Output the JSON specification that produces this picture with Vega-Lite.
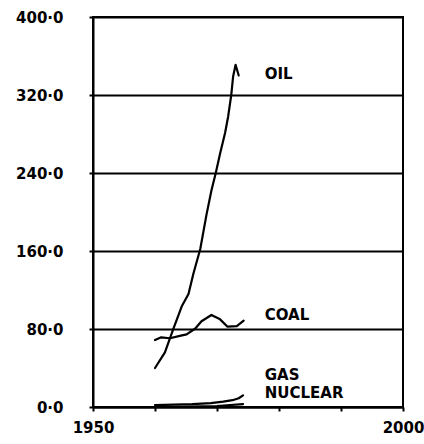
{
  "$schema": "https://vega.github.io/schema/vega-lite/v6.json",
  "autosize": "none",
  "width": 310,
  "height": 390,
  "padding": {"left": 93, "top": 17, "right": 21, "bottom": 37},
  "background": "white",
  "config": {
    "view": {"stroke": "black", "strokeWidth": 2},
    "font": "DejaVu Sans"
  },
  "datasets": {
    "series": [
      {"fuel": "OIL", "year": 1960.0, "value": 40},
      {"fuel": "OIL", "year": 1961.6, "value": 56},
      {"fuel": "OIL", "year": 1962.9, "value": 79},
      {"fuel": "OIL", "year": 1964.3, "value": 103},
      {"fuel": "OIL", "year": 1965.4, "value": 116},
      {"fuel": "OIL", "year": 1966.2, "value": 137},
      {"fuel": "OIL", "year": 1967.3, "value": 162},
      {"fuel": "OIL", "year": 1968.3, "value": 197},
      {"fuel": "OIL", "year": 1969.1, "value": 222},
      {"fuel": "OIL", "year": 1969.8, "value": 240},
      {"fuel": "OIL", "year": 1970.5, "value": 260},
      {"fuel": "OIL", "year": 1971.3, "value": 281},
      {"fuel": "OIL", "year": 1971.8, "value": 298},
      {"fuel": "OIL", "year": 1972.3, "value": 320},
      {"fuel": "OIL", "year": 1972.6, "value": 339},
      {"fuel": "OIL", "year": 1973.0, "value": 351},
      {"fuel": "OIL", "year": 1973.5, "value": 340},
      {"fuel": "COAL", "year": 1960.0, "value": 68.7},
      {"fuel": "COAL", "year": 1961.0, "value": 71.5},
      {"fuel": "COAL", "year": 1962.4, "value": 70.5},
      {"fuel": "COAL", "year": 1964.0, "value": 73},
      {"fuel": "COAL", "year": 1965.1, "value": 74.5},
      {"fuel": "COAL", "year": 1966.5, "value": 80.5},
      {"fuel": "COAL", "year": 1967.5, "value": 88},
      {"fuel": "COAL", "year": 1969.1, "value": 94.4},
      {"fuel": "COAL", "year": 1970.5, "value": 89.9},
      {"fuel": "COAL", "year": 1971.7, "value": 82.4},
      {"fuel": "COAL", "year": 1973.2, "value": 83},
      {"fuel": "COAL", "year": 1974.3, "value": 88.5},
      {"fuel": "GAS", "year": 1960.0, "value": 2},
      {"fuel": "GAS", "year": 1963.0, "value": 2.5},
      {"fuel": "GAS", "year": 1966.0, "value": 3},
      {"fuel": "GAS", "year": 1969.0, "value": 4},
      {"fuel": "GAS", "year": 1971.0, "value": 5.5},
      {"fuel": "GAS", "year": 1972.5, "value": 7},
      {"fuel": "GAS", "year": 1973.5, "value": 9},
      {"fuel": "GAS", "year": 1974.2, "value": 12},
      {"fuel": "NUCLEAR", "year": 1960.0, "value": 0},
      {"fuel": "NUCLEAR", "year": 1965.0, "value": 0.3},
      {"fuel": "NUCLEAR", "year": 1970.0, "value": 1},
      {"fuel": "NUCLEAR", "year": 1974.2, "value": 3}
    ],
    "labels": [
      {"label": "OIL", "year": 1977.7, "value": 342},
      {"label": "COAL", "year": 1977.7, "value": 94},
      {"label": "GAS", "year": 1977.7, "value": 33},
      {"label": "NUCLEAR", "year": 1977.7, "value": 14}
    ]
  },
  "layer": [
    {
      "data": {"name": "series"},
      "mark": {"type": "line", "color": "black", "strokeWidth": 2.2, "interpolate": "linear", "strokeJoin": "round", "strokeCap": "round"},
      "encoding": {
        "x": {
          "field": "year", "type": "quantitative",
          "scale": {"domain": [1950, 2000], "nice": false, "zero": false},
          "axis": {
            "title": null,
            "values": [1950, 1960, 1970, 1980, 1990, 2000],
            "labelExpr": "datum.value == 1950 || datum.value == 2000 ? format(datum.value, 'd') : ''",
            "grid": false,
            "domainColor": "black", "domainWidth": 2,
            "tickColor": "black", "tickWidth": 2, "tickSize": 4,
            "labelColor": "black", "labelFont": "DejaVu Sans", "labelFontWeight": "bold", "labelFontSize": 15,
            "labelPadding": 9, "labelFlush": false
          }
        },
        "y": {
          "field": "value", "type": "quantitative",
          "scale": {"domain": [0, 400], "nice": false},
          "axis": {
            "title": null,
            "values": [0, 40, 80, 120, 160, 200, 240, 280, 320, 360, 400],
            "labelExpr": "datum.value % 80 == 0 ? replace(format(datum.value, '.1f'), '.', '\u00b7') : ''",
            "grid": true,
            "gridColor": "black",
            "gridWidth": 2,
            "gridOpacity": {"condition": {"test": "datum.value % 80 == 0", "value": 1}, "value": 0},
            "domainColor": "black", "domainWidth": 2,
            "tickColor": "black", "tickWidth": 2, "tickSize": 4,
            "labelColor": "black", "labelFont": "DejaVu Sans", "labelFontWeight": "bold", "labelFontSize": 15,
            "labelPadding": 26
          }
        },
        "detail": {"field": "fuel"}
      }
    },
    {
      "data": {"name": "labels"},
      "mark": {"type": "text", "align": "left", "baseline": "middle", "font": "DejaVu Sans", "fontWeight": "bold", "fontSize": 15, "color": "black"},
      "encoding": {
        "x": {"field": "year", "type": "quantitative"},
        "y": {"field": "value", "type": "quantitative"},
        "text": {"field": "label"}
      }
    }
  ]
}
